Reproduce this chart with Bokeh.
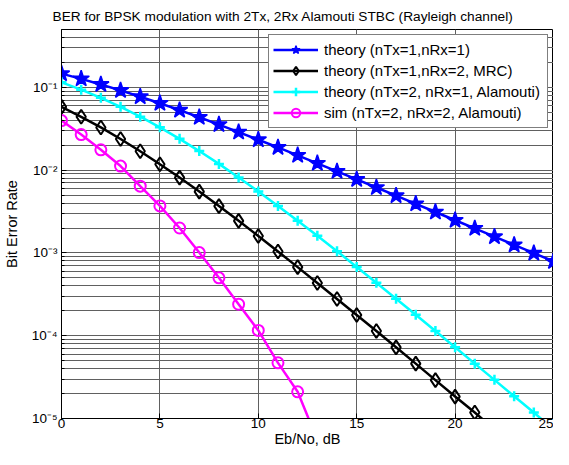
from bokeh.plotting import figure
from bokeh.models import (Range1d, LogTicker, SingleIntervalTicker, CustomJSTickFormatter,
                          Legend, LegendItem)
from bokeh.embed import file_html
from bokeh.resources import INLINE

FONT = "Liberation Sans"

ebno_db = list(range(26))
theory_1x1 = [0.1464, 0.1267, 0.1085, 0.0919, 0.0771, 0.0642, 0.0530, 0.0435, 0.0355,
              0.0288, 0.0233, 0.0188, 0.0151, 0.0121, 0.00966, 0.00773, 0.00617, 0.00492,
              0.00392, 0.00312, 0.00248, 0.00198, 0.00157, 0.00125, 0.000994, 0.000790]
theory_mrc = [0.0581, 0.0441, 0.0328, 0.0238, 0.0169, 0.0118, 0.00813, 0.00551, 0.00368,
              0.00244, 0.00160, 0.00104, 0.000674, 0.000434, 0.000278, 0.000178, 0.000114,
              7.24e-5, 4.60e-5, 2.91e-5, 1.84e-5, 1.18e-5, 7.39e-6, 4.68e-6, 2.96e-6, 1.87e-6]
theory_alamouti = [0.1151, 0.0939, 0.0748, 0.0582, 0.0442, 0.0329, 0.0239, 0.0170, 0.0119,
                   0.00816, 0.00553, 0.00370, 0.00245, 0.00161, 0.00105, 0.000677, 0.000436,
                   0.000280, 0.000179, 0.000114, 7.27e-5, 4.60e-5, 2.93e-5, 1.86e-5,
                   1.18e-5, 7.39e-6]
sim_db = list(range(14))
sim_alamouti_2x2 = [0.0397, 0.0269, 0.0176, 0.0112, 0.0064, 0.0037, 0.0020, 0.00101,
                    0.00050, 0.00024, 0.000116, 4.7e-5, 2.1e-5, 5.5e-6]

legend_labels = ["theory (nTx=1,nRx=1)", "theory (nTx=1,nRx=2, MRC)",
                 "theory (nTx=2, nRx=1, Alamouti)", "sim (nTx=2, nRx=2, Alamouti)"]
x_ticks_interval = 5

p = figure(width=553, height=449, y_axis_type="log",
           x_range=Range1d(0, 25), y_range=Range1d(1e-5, 0.5),
           output_backend="svg", toolbar_location=None,
           min_border_left=53, min_border_right=0, min_border_top=23, min_border_bottom=0,
           title="BER for BPSK modulation with 2Tx, 2Rx Alamouti STBC (Rayleigh channel)")
p.background_fill_color = "white"
p.border_fill_color = "white"
p.outline_line_color = "black"
p.outline_line_width = 1

p.title.text_font = FONT
p.title.text_font_size = "13.7px"
p.title.text_font_style = "normal"
p.title.text_color = "black"
p.title.align = "left"
p.title.offset = -9
p.title.standoff = 12

p.xaxis.ticker = SingleIntervalTicker(interval=x_ticks_interval, num_minor_ticks=0)
p.yaxis.ticker = LogTicker(mantissas=[1], desired_num_ticks=6, num_minor_ticks=10)
p.yaxis.formatter = CustomJSTickFormatter(code="""
const e = Math.round(Math.log10(tick));
const sup = {'-':'\u207b','0':'\u2070','1':'\u00b9','2':'\u00b2','3':'\u00b3','4':'\u2074',
             '5':'\u2075','6':'\u2076','7':'\u2077','8':'\u2078','9':'\u2079'};
return '10' + String(e).split('').map(c => sup[c]).join('');
""")

for ax in (p.xaxis, p.yaxis):
    ax.axis_line_color = "black"
    ax.major_tick_in = 5
    ax.major_tick_out = 0
    ax.minor_tick_in = 3
    ax.minor_tick_out = 0
    ax.major_tick_line_color = "black"
    ax.minor_tick_line_color = "black"
    ax.major_label_text_font = FONT
    ax.major_label_text_font_size = "13.5px"
    ax.major_label_text_color = "black"
    ax.axis_label_text_font = FONT
    ax.axis_label_text_font_size = "14.5px"
    ax.axis_label_text_font_style = "normal"
    ax.axis_label_text_color = "black"

p.xaxis.axis_label = "Eb/No, dB"
p.yaxis.axis_label = "Bit Error Rate"
p.xaxis.major_label_standoff = 0
p.xaxis.axis_label_standoff = 0
p.yaxis.major_label_standoff = 4
p.yaxis.axis_label_standoff = 9

grid_col = "#606060"
p.xgrid.grid_line_color = grid_col
p.ygrid.grid_line_color = grid_col
p.ygrid.minor_grid_line_color = grid_col
p.xgrid.grid_line_width = 1
p.ygrid.grid_line_width = 1

LW = 2.5
l1 = p.line(ebno_db, theory_1x1, line_color="#0000ff", line_width=LW)
m1 = p.scatter(ebno_db, theory_1x1, marker="star", size=17, fill_color="#0000ff",
               line_color="#0000ff", line_width=1.5)
l2 = p.line(ebno_db, theory_mrc, line_color="black", line_width=LW)
m2 = p.scatter(ebno_db, theory_mrc, marker="diamond", size=14, fill_color=None,
               line_color="black", line_width=2)
l3 = p.line(ebno_db, theory_alamouti, line_color="#00ffff", line_width=LW)
m3 = p.scatter(ebno_db, theory_alamouti, marker="cross", size=10, fill_color=None,
               line_color="#00ffff", line_width=2.5)
l4 = p.line(sim_db, sim_alamouti_2x2, line_color="#ff00ff", line_width=LW)
m4 = p.scatter(sim_db, sim_alamouti_2x2, marker="circle", size=11, fill_color=None,
               line_color="#ff00ff", line_width=2)

legend = Legend(items=[LegendItem(label=legend_labels[0], renderers=[l1, m1]),
                       LegendItem(label=legend_labels[1], renderers=[l2, m2]),
                       LegendItem(label=legend_labels[2], renderers=[l3, m3]),
                       LegendItem(label=legend_labels[3], renderers=[l4, m4])],
                location="top_right")
legend.margin = 5
legend.padding = 4
legend.spacing = 0
legend.glyph_width = 45
legend.glyph_height = 21
legend.label_height = 21
legend.label_width = 219
legend.label_standoff = 6
legend.label_text_font = FONT
legend.label_text_font_size = "15px"
legend.label_text_color = "black"
legend.border_line_color = "black"
legend.border_line_width = 1
legend.background_fill_color = "white"
legend.background_fill_alpha = 1
p.add_layout(legend)

open("out.html", "w").write(file_html(p, INLINE))
